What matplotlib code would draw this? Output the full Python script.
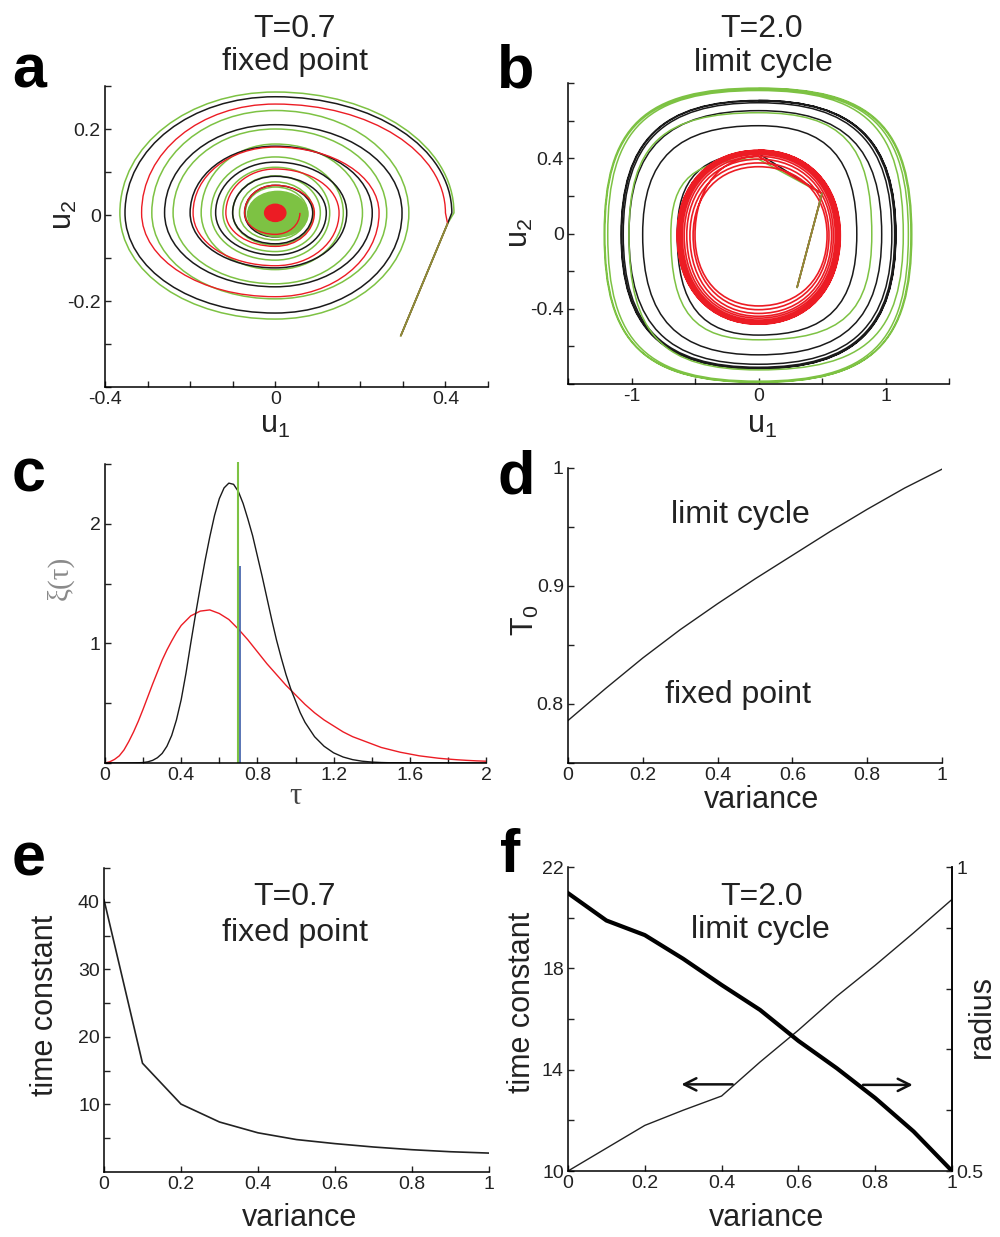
import matplotlib
matplotlib.use('Agg')
import matplotlib.pyplot as plt
import numpy as np
from matplotlib.path import Path
from matplotlib.patches import PathPatch, Ellipse

plt.rcParams['font.family'] = ['Liberation Sans', 'DejaVu Sans']
plt.rcParams['mathtext.fontset'] = 'custom'
plt.rcParams['mathtext.rm'] = 'Liberation Sans'
plt.rcParams['axes.unicode_minus'] = False

GREEN = '#7dc243'
RED = '#ec1c24'
BLUE = '#3c5ca8'
OLIVE = '#8a8f3a'   # where the red and green trajectories overlap

# ---------------- data ----------------
# panel a (T=0.7): start of trajectories, then axis crossings in the order
# right, top, left, bottom, right, ... (absolute values)
a_start = [(0.295, -0.281), (0.405, -0.02)]
a_black = [0.415, 0.270, 0.353, 0.233,
           0.298, 0.205, 0.260, 0.172,
           0.228, 0.155, 0.200, 0.128,
           0.168, 0.118, 0.140, 0.098,
           0.120, 0.085, 0.100, 0.072,
           0.088, 0.064, 0.072, 0.056,
           0.066]
a_green = [0.420, 0.281, 0.365, 0.247,
           0.314, 0.238, 0.290, 0.200,
           0.262, 0.195, 0.240, 0.165,
           0.205, 0.160, 0.174, 0.132,
           0.160, 0.130, 0.151, 0.110,
           0.128, 0.106, 0.123, 0.090,
           0.106, 0.086, 0.100, 0.075,
           0.090, 0.072, 0.084, 0.063,
           0.076, 0.060, 0.070, 0.053]
a_red = [0.400, 0.253, 0.314, 0.195,
         0.244, 0.153, 0.193, 0.123,
         0.150, 0.102, 0.116, 0.078,
         0.092, 0.064, 0.072, 0.050,
         0.058]
a_fixed = (0.0, 0.005)
a_core = (0.006, 0.002, 0.142, 0.106)   # dense green core: x, y, width, height
a_dot = (0.05, 0.04)                     # red fixed point blob: width, height

# panel b (T=2.0): crossings in the order top, left, bottom, right, top, ...
b_start = [(0.304, -0.286), (0.5, 0.212)]
b_black = [0.430, 0.640, 0.535, 0.774,
           0.578, 0.912, 0.640, 0.970,
           0.658, 1.020, 0.690, 1.050,
           0.700, 1.065, 0.706, 1.072,
           0.710, 1.078, 0.712, 1.080,
           0.712, 1.082, 0.713, 1.082,
           0.712]
b_green = [0.400, 0.690, 0.560, 0.892,
           0.647, 1.020, 0.720, 1.140,
           0.765, 1.187, 0.780, 1.180,
           0.770, 1.210, 0.785, 1.207,
           0.778, 1.215, 0.786, 1.200,
           0.775]
b_red = [0.420, 0.500, 0.375, 0.540,
         0.365, 0.515, 0.395, 0.555,
         0.385, 0.540, 0.415, 0.575,
         0.405, 0.565, 0.430, 0.590,
         0.420, 0.585, 0.440, 0.605,
         0.430, 0.600, 0.450, 0.615,
         0.437, 0.610, 0.455, 0.622,
         0.440, 0.618, 0.460, 0.628,
         0.444, 0.624, 0.464, 0.633,
         0.447, 0.630, 0.467, 0.637,
         0.449, 0.634, 0.469, 0.640,
         0.451, 0.638, 0.471, 0.642,
         0.452, 0.640, 0.472, 0.644,
         0.453]

# panel c: delay distributions xi(tau)
tau_k = [0.00, 0.10, 0.15, 0.175, 0.20, 0.225, 0.25, 0.275, 0.30, 0.325,
         0.35, 0.375, 0.40, 0.425, 0.45, 0.475, 0.50, 0.525, 0.55, 0.575,
         0.60, 0.625, 0.65, 0.675, 0.70, 0.725, 0.75, 0.775, 0.80, 0.825,
         0.85, 0.875, 0.90, 0.925, 0.95, 0.975, 1.00, 1.025, 1.05, 1.075,
         1.10, 1.15, 1.20, 1.25, 1.30, 1.35, 1.40, 1.45, 1.50, 2.00]
xi_black = [0, 0, 0.001, 0.002, 0.004, 0.010, 0.022, 0.044, 0.08, 0.14,
            0.23, 0.36, 0.53, 0.75, 1.00, 1.24, 1.47, 1.69, 1.89, 2.07,
            2.21, 2.30, 2.34, 2.33, 2.27, 2.17, 2.04, 1.90, 1.73, 1.56,
            1.38, 1.20, 1.03, 0.88, 0.74, 0.62, 0.52, 0.42, 0.34, 0.28,
            0.22, 0.14, 0.085, 0.05, 0.028, 0.015, 0.008, 0.004, 0.002, 0.0]
tau_r = [0.00, 0.025, 0.05, 0.075, 0.10, 0.125, 0.15, 0.175, 0.20, 0.225,
         0.25, 0.275, 0.30, 0.325, 0.35, 0.375, 0.40, 0.45, 0.50, 0.55,
         0.60, 0.65, 0.70, 0.75, 0.80, 0.85, 0.90, 0.95, 1.00, 1.05,
         1.10, 1.15, 1.20, 1.25, 1.30, 1.35, 1.40, 1.45, 1.50, 1.55,
         1.60, 1.65, 1.70, 1.75, 1.80, 1.85, 1.90, 1.95, 2.00]
xi_red = [0.0, 0.01, 0.03, 0.06, 0.11, 0.18, 0.26, 0.35, 0.45, 0.555,
          0.66, 0.76, 0.86, 0.945, 1.02, 1.09, 1.15, 1.23, 1.27, 1.28,
          1.25, 1.20, 1.12, 1.03, 0.93, 0.83, 0.74, 0.65, 0.57, 0.49,
          0.42, 0.36, 0.31, 0.26, 0.22, 0.19, 0.16, 0.13, 0.11, 0.09,
          0.075, 0.06, 0.05, 0.04, 0.033, 0.027, 0.022, 0.018, 0.015]
tau_green, xi_green_top = 0.70, 2.52
tau_blue, xi_blue_top = 0.71, 1.65

# panels d, e, f
variance = [0.0, 0.1, 0.2, 0.3, 0.4, 0.5, 0.6, 0.7, 0.8, 0.9, 1.0]
T0 = [0.786, 0.813, 0.839, 0.863, 0.885, 0.906, 0.926, 0.946, 0.965, 0.983, 0.999]
tc_fixed = [40.3, 16.1, 10.05, 7.4, 5.8, 4.8, 4.2, 3.7, 3.3, 3.0, 2.8]
tc_cycle = [10.0, 10.9, 11.8, 12.4, 12.96, 14.3, 15.56, 16.9, 18.12, 19.4, 20.72]
radius = [0.957, 0.912, 0.888, 0.849, 0.806, 0.765, 0.714, 0.669, 0.62, 0.565, 0.5]


# ---------------- helpers ----------------
W, H = 1000, 1237
fig = plt.figure(figsize=(W / 100, H / 100), dpi=100)


def px_axes(l, t, r, b):
    return fig.add_axes([l / W, 1 - b / H, (r - l) / W, (b - t) / H])


def ftext(x, y, s, **kw):
    fig.text(x / W, 1 - y / H, s, **kw)


def style(ax, right=False):
    ax.spines['top'].set_visible(False)
    ax.spines['right'].set_visible(right)
    for s in ax.spines.values():
        s.set_linewidth(1.1)
    ax.tick_params(direction='in', length=4, width=1, labelsize=14, pad=3,
                   colors='#222222')


def ticks(ax, axis, vals, labeled):
    lab = [('%g' % v if any(abs(v - q) < 1e-9 for q in labeled) else '') for v in vals]
    if axis == 'x':
        ax.set_xticks(vals)
        ax.set_xticklabels(lab)
    else:
        ax.set_yticks(vals)
        ax.set_yticklabels(lab)


def spiral(ax, lead, radii, first, color, lw, k, center=(0.0, 0.0), z=2):
    cx, cy = center
    dirs = [(1, 0), (0, 1), (-1, 0), (0, -1)]
    pts = []
    for i, r in enumerate(radii):
        d = dirs[(first + i) % 4]
        pts.append(((first + i) % 2, (cx + d[0] * r, cy + d[1] * r)))
    verts = [lead[0]]
    codes = [Path.MOVETO]
    for p in lead[1:]:
        verts.append(p)
        codes.append(Path.LINETO)
    verts.append(pts[0][1])
    codes.append(Path.LINETO)
    for i in range(1, len(pts)):
        kind0, p0 = pts[i - 1]
        _, p1 = pts[i]
        corner = (p0[0], p1[1]) if kind0 == 0 else (p1[0], p0[1])
        c1 = (p0[0] + k * (corner[0] - p0[0]), p0[1] + k * (corner[1] - p0[1]))
        c2 = (p1[0] + k * (corner[0] - p1[0]), p1[1] + k * (corner[1] - p1[1]))
        verts += [c1, c2, p1]
        codes += [Path.CURVE4] * 3
    ax.add_patch(PathPatch(Path(verts, codes), fill=False, edgecolor=color,
                           lw=lw, zorder=z))


label_kw = dict(fontsize=22, ha='center', va='center', color='#222222')
title_kw = dict(fontsize=23, ha='center', va='baseline', color='#222222')
letter_kw = dict(fontsize=44, fontweight='bold', ha='left', va='baseline')

# ---------------- panel a ----------------
ax = px_axes(105, 86, 488, 387)
style(ax)
ax.set_xlim(-0.4, 0.5)
ax.set_ylim(-0.4, 0.3)
ticks(ax, 'x', [-0.4, -0.3, -0.2, -0.1, 0, 0.1, 0.2, 0.3, 0.4, 0.5], [-0.4, 0, 0.4])
ticks(ax, 'y', [-0.4, -0.3, -0.2, -0.1, 0, 0.1, 0.2, 0.3], [-0.2, 0, 0.2])
spiral(ax, a_start, a_green, 0, GREEN, 1.1, 0.56, a_fixed, z=2)
spiral(ax, a_start, a_black, 0, '#1a1a1a', 1.1, 0.56, a_fixed, z=3)
ax.add_patch(Ellipse(a_core[:2], a_core[2], a_core[3], color=GREEN, zorder=3.5))
spiral(ax, a_start, a_red, 0, RED, 1.0, 0.56, a_fixed, z=4)
ax.plot([p[0] for p in a_start], [p[1] for p in a_start], color=OLIVE, lw=1.3, zorder=4.5)
ax.add_patch(Ellipse(a_fixed, a_dot[0], a_dot[1], color=RED, zorder=5))

ftext(295, 37, 'T=0.7', **title_kw)
ftext(295, 70, 'fixed point', **title_kw)
ftext(275, 425, r'$\mathregular{u_1}$', **label_kw)
ftext(64, 215, r'$\mathregular{u_2}$', rotation=90, **label_kw)
ftext(12, 88, 'a', **letter_kw)

# ---------------- panel b ----------------
ax = px_axes(568, 83, 949, 384)
style(ax)
ax.set_xlim(-1.5, 1.5)
ax.set_ylim(-0.8, 0.8)
ticks(ax, 'x', [-1.5, -1, -0.5, 0, 0.5, 1, 1.5], [-1, 0, 1])
ticks(ax, 'y', [-0.8, -0.6, -0.4, -0.2, 0, 0.2, 0.4, 0.6, 0.8], [-0.4, 0, 0.4])
spiral(ax, b_start, b_black, 1, '#1a1a1a', 1.1, 0.70, (0.0, -0.005), z=2)
spiral(ax, b_start, b_green, 1, GREEN, 1.1, 0.74, (0.0, -0.005), z=3)
spiral(ax, b_start, b_red, 1, RED, 1.2, 0.60, (0.0, -0.01), z=4)
ax.plot([p[0] for p in b_start], [p[1] for p in b_start], color=OLIVE, lw=1.3, zorder=4.5)

ftext(762, 37, 'T=2.0', **title_kw)
ftext(763, 71, 'limit cycle', **title_kw)
ftext(762, 425, r'$\mathregular{u_1}$', **label_kw)
ftext(520, 233, r'$\mathregular{u_2}$', rotation=90, **label_kw)
ftext(497, 88, 'b', **letter_kw)

# ---------------- panel c ----------------
ax = px_axes(105, 464, 486, 763)
style(ax)
ax.set_xlim(0, 2)
ax.set_ylim(0, 2.5)
ticks(ax, 'x', [0, 0.2, 0.4, 0.6, 0.8, 1.0, 1.2, 1.4, 1.6, 1.8, 2.0],
      [0, 0.4, 0.8, 1.2, 1.6, 2.0])
ticks(ax, 'y', [0, 0.5, 1.0, 1.5, 2.0, 2.5], [1, 2])
ax.plot(tau_r, xi_red, color=RED, lw=1.0)
ax.plot(tau_k, xi_black, color='#1a1a1a', lw=1.0)
ax.vlines(tau_green, 0, xi_green_top, color=GREEN, lw=1.5, clip_on=False)
ax.vlines(tau_blue, 0, xi_blue_top, color=BLUE, lw=1.2)

ftext(295, 797, 'τ', fontsize=22, ha='center', va='center',
      family=['Liberation Serif', 'DejaVu Serif'], color='#444444')
ftext(60, 578, 'ξ(τ)', fontsize=21, ha='center', va='center', rotation=90,
      family=['Liberation Serif', 'DejaVu Serif'], color='#8a8a8a')
ftext(12, 492, 'c', **letter_kw)

# ---------------- panel d ----------------
ax = px_axes(568, 468, 942, 763)
style(ax)
ax.set_xlim(0, 1)
ax.set_ylim(0.75, 1.0)
ticks(ax, 'x', [0, 0.2, 0.4, 0.6, 0.8, 1.0], [0, 0.2, 0.4, 0.6, 0.8, 1.0])
ticks(ax, 'y', [0.75, 0.8, 0.85, 0.9, 0.95, 1.0], [0.8, 0.9, 1.0])
ax.plot(variance, T0, color='#222222', lw=1.0)

ftext(740, 523, 'limit cycle', **title_kw)
ftext(738, 703, 'fixed point', **title_kw)
ftext(762, 800, 'variance', **label_kw)
ftext(525, 620, r'$\mathregular{T_0}$', rotation=90, **label_kw)
ftext(497, 493, 'd', **letter_kw)

# ---------------- panel e ----------------
ax = px_axes(104, 868, 489, 1172)
style(ax)
ax.set_xlim(0, 1)
ax.set_ylim(0, 45)
ticks(ax, 'x', [0, 0.2, 0.4, 0.6, 0.8, 1.0], [0, 0.2, 0.4, 0.6, 0.8, 1.0])
ticks(ax, 'y', [5, 10, 15, 20, 25, 30, 35, 40, 45], [10, 20, 30, 40])
ax.plot(variance, tc_fixed, color='#222222', lw=1.2)

ftext(295, 905, 'T=0.7', **title_kw)
ftext(295, 941, 'fixed point', **title_kw)
ftext(300, 1218, 'variance', **label_kw)
ftext(45, 1005, 'time constant', rotation=90, **label_kw)
ftext(12, 875, 'e', **letter_kw)

# ---------------- panel f ----------------
ax = px_axes(568, 867, 952, 1171)
style(ax, right=True)
ax.set_xlim(0, 1)
ax.set_ylim(10, 22)
ticks(ax, 'x', [0, 0.2, 0.4, 0.6, 0.8, 1.0], [0, 0.2, 0.4, 0.6, 0.8, 1.0])
ticks(ax, 'y', [10, 12, 14, 16, 18, 20, 22], [10, 14, 18, 22])
ax.plot(variance, tc_cycle, color='#222222', lw=1.0)
ax.annotate('', xy=(0.288, 13.42), xytext=(0.436, 13.42),
            arrowprops=dict(arrowstyle='->', lw=1.8, color='#111111',
                            mutation_scale=22))
ax.annotate('', xy=(0.905, 13.40), xytext=(0.761, 13.40),
            arrowprops=dict(arrowstyle='->', lw=1.8, color='#111111',
                            mutation_scale=22))
ax2 = ax.twinx()
style(ax2, right=True)
ax2.spines['left'].set_visible(False)
ax2.spines['bottom'].set_visible(False)
ax2.set_ylim(0.5, 1.0)
ticks(ax2, 'y', [0.5, 0.6, 0.7, 0.8, 0.9, 1.0], [0.5, 1.0])
ax2.plot(variance, radius, color='black', lw=3.0)

ftext(762, 905, 'T=2.0', **title_kw)
ftext(760, 938, 'limit cycle', **title_kw)
ftext(767, 1218, 'variance', **label_kw)
ftext(522, 1002, 'time constant', rotation=90, **label_kw)
ftext(982, 1017, 'radius', rotation=90, **label_kw)
ftext(500, 872, 'f', **letter_kw)

fig.savefig('out.png', dpi=100)
